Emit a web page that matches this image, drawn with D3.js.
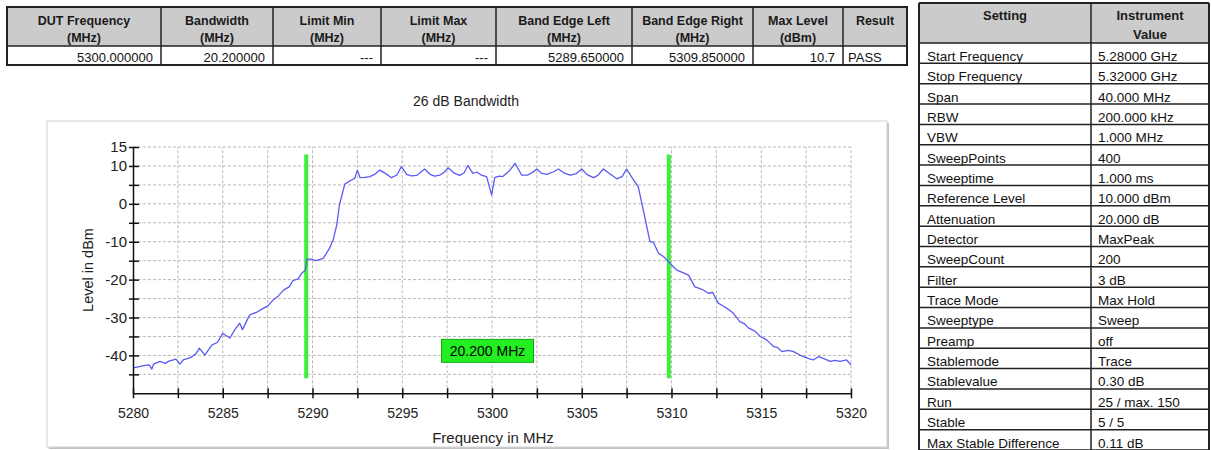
<!DOCTYPE html>
<html>
<head>
<meta charset="utf-8">
<script src="https://cdn.jsdelivr.net/npm/d3@7"></script>
<style>
  body { margin: 0; background: #fff; }
  svg { font-family: "Liberation Sans", Arial, sans-serif; }
</style>
</head>
<body>
<div id="chart"></div>
<script>
// result table
const resultHeaders = [
  ["DUT Frequency", "(MHz)"], ["Bandwidth", "(MHz)"], ["Limit Min", "(MHz)"], ["Limit Max", "(MHz)"],
  ["Band Edge Left", "(MHz)"], ["Band Edge Right", "(MHz)"], ["Max Level", "(dBm)"], ["Result", ""]
];
const resultValues = ["5300.000000", "20.200000", "---", "---", "5289.650000", "5309.850000", "10.7", "PASS"];

// instrument settings
const settingNames = ["Start Frequency", "Stop Frequency", "Span", "RBW", "VBW", "SweepPoints", "Sweeptime",
  "Reference Level", "Attenuation", "Detector", "SweepCount", "Filter", "Trace Mode", "Sweeptype", "Preamp",
  "Stablemode", "Stablevalue", "Run", "Stable", "Max Stable Difference"];
const settingValues = ["5.28000 GHz", "5.32000 GHz", "40.000 MHz", "200.000 kHz", "1.000 MHz", "400", "1.000 ms",
  "10.000 dBm", "20.000 dB", "MaxPeak", "200", "3 dB", "Max Hold", "Sweep", "off",
  "Trace", "0.30 dB", "25 / max. 150", "5 / 5", "0.11 dB"];

// trace
const traceFreq = [5280.0, 5280.3, 5280.6, 5280.9, 5281.05, 5281.15, 5281.5, 5281.8, 5282.0, 5282.4, 5282.6, 5282.8,
  5283.2, 5283.5, 5283.7, 5284.0, 5284.4, 5284.7, 5285.0, 5285.4, 5285.7, 5285.95, 5286.1, 5286.5, 5286.9,
  5287.25, 5287.5, 5287.8, 5288.1, 5288.4, 5288.7, 5288.9, 5289.2, 5289.4, 5289.6, 5289.7, 5289.9, 5290.2,
  5290.6, 5290.95, 5291.15, 5291.35, 5291.5, 5291.8, 5292.1, 5292.35, 5292.5, 5292.65, 5292.9, 5293.2, 5293.5,
  5293.75, 5294.1, 5294.4, 5294.7, 5294.95, 5295.25, 5295.5, 5295.8, 5296.25, 5296.55, 5296.8, 5297.1, 5297.35,
  5297.55, 5297.9, 5298.2, 5298.45, 5298.65, 5298.95, 5299.15, 5299.4, 5299.7, 5299.98, 5300.15, 5300.4,
  5300.6, 5301.0, 5301.28, 5301.65, 5302.0, 5302.25, 5302.5, 5302.75, 5303.05, 5303.4, 5303.7, 5304.0, 5304.35,
  5304.7, 5305.0, 5305.3, 5305.65, 5305.9, 5306.2, 5306.6, 5306.95, 5307.25, 5307.5, 5307.8, 5308.15, 5308.45,
  5308.8, 5309.0, 5309.27, 5309.55, 5309.85, 5310.1, 5310.3, 5310.6, 5310.95, 5311.3, 5311.55, 5311.8, 5312.05,
  5312.3, 5312.6, 5312.85, 5313.1, 5313.45, 5313.8, 5314.05, 5314.3, 5314.65, 5314.95, 5315.3, 5315.7, 5315.9,
  5316.15, 5316.5, 5316.8, 5317.15, 5317.6, 5317.9, 5318.2, 5318.45, 5318.85, 5319.1, 5319.4, 5319.75, 5320.0];
const traceLevel = [-43.3, -43.0, -42.7, -42.5, -43.6, -42.3, -41.6, -42.1, -41.5, -41.0, -42.3, -41.2,
  -40.6, -39.6, -38.1, -39.9, -37.2, -36.6, -34.2, -35.4, -33.0, -31.5, -33.2, -29.3, -28.6,
  -27.6, -27.0, -25.4, -24.3, -22.7, -21.9, -20.3, -19.8, -18.3, -17.5, -14.6, -14.6, -15.0,
  -14.4, -11.7, -9.5, -5.6, -0.3, 5.2, 6.1, 6.7, 8.9, 6.9, 7.0, 7.2, 7.9,
  8.9, 7.9, 6.9, 7.6, 9.8, 7.8, 7.4, 7.5, 9.2, 7.8, 7.3, 7.6, 8.4,
  9.5, 8.1, 7.5, 8.2, 10.1, 8.0, 8.4, 7.6, 7.2, 2.3, 6.9, 7.3,
  7.2, 8.9, 10.7, 7.6, 7.6, 8.3, 9.2, 8.1, 7.8, 8.4, 9.2, 8.2, 7.6,
  8.0, 9.2, 7.7, 6.9, 7.5, 9.2, 7.8, 6.6, 7.2, 9.2, 6.9, 4.5, -2.1,
  -10.0, -10.2, -13.0, -13.9, -15.3, -16.6, -17.5, -18.1, -18.8, -21.9, -22.3, -22.8, -23.6,
  -23.4, -26.2, -26.9, -27.6, -28.9, -31.1, -31.6, -32.8, -33.6, -35.0, -35.9, -37.7, -37.9,
  -39.0, -38.7, -39.0, -39.9, -40.8, -41.2, -40.3, -40.8, -41.6, -41.3, -41.6, -41.2, -42.5];

const bandEdges = [5289.65, 5309.85];
const bandLabel = "20.200 MHz";
const xTickLabels = [5280, 5285, 5290, 5295, 5300, 5305, 5310, 5315, 5320];
const xMinorTicks = [5282.5, 5287.5, 5292.5, 5297.5, 5302.5, 5307.5, 5312.5, 5317.5];
const yTickLabels = [15, 10, 0, -10, -20, -30, -40];
const yMinorTicks = [5, -5, -15, -25, -35, -45];

const W = 1211, H = 450;
const svg = d3.select("#chart").append("svg").attr("width", W).attr("height", H);

// ---------- result table ----------
const resCols = [7, 161, 273, 381, 496, 632, 753, 843, 907];
const resTop = 7, resHeadBottom = 46, resBottom = 65;
const resG = svg.append("g");
resG.append("rect").attr("x", resCols[0]).attr("y", resTop)
  .attr("width", resCols[8] - resCols[0]).attr("height", resHeadBottom - resTop).attr("fill", "#cbcbcb");
resultHeaders.forEach((h, i) => {
  const cx = (resCols[i] + resCols[i + 1]) / 2;
  const t = resG.append("text").attr("text-anchor", "middle").attr("font-size", 12.5)
    .attr("font-weight", "bold").attr("fill", "#1a1a1a");
  t.append("tspan").attr("x", cx).attr("y", 25).text(h[0]);
  if (h[1]) t.append("tspan").attr("x", cx).attr("y", 42).text(h[1]);
});
resultValues.forEach((v, i) => {
  const last = i === resultValues.length - 1;
  resG.append("text")
    .attr("x", last ? resCols[i] + 5 : resCols[i + 1] - 8)
    .attr("y", 62)
    .attr("text-anchor", last ? "start" : "end")
    .attr("font-size", 13).attr("fill", "#111").text(v);
});
resG.append("rect").attr("x", resCols[0]).attr("y", resTop)
  .attr("width", resCols[8] - resCols[0]).attr("height", resBottom - resTop)
  .attr("fill", "none").attr("stroke", "#222").attr("stroke-width", 2);
resG.append("line").attr("x1", resCols[0]).attr("x2", resCols[8]).attr("y1", resHeadBottom).attr("y2", resHeadBottom)
  .attr("stroke", "#222").attr("stroke-width", 1.5);
resCols.slice(1, -1).forEach(cx => {
  resG.append("line").attr("x1", cx).attr("x2", cx).attr("y1", resTop).attr("y2", resBottom)
    .attr("stroke", "#222").attr("stroke-width", 1.5);
});

// ---------- settings table ----------
const setL = 919, setM = 1091, setR = 1209, setTop = 3, setHead = 43, rowH = 20.35;
const setG = svg.append("g");
setG.append("rect").attr("x", setL).attr("y", setTop).attr("width", setR - setL).attr("height", setHead - setTop)
  .attr("fill", "#cbcbcb");
setG.append("text").attr("x", (setL + setM) / 2).attr("y", 20).attr("text-anchor", "middle")
  .attr("font-size", 13).attr("font-weight", "bold").attr("fill", "#1a1a1a").text("Setting");
const ivt = setG.append("text").attr("text-anchor", "middle").attr("font-size", 13)
  .attr("font-weight", "bold").attr("fill", "#1a1a1a");
ivt.append("tspan").attr("x", (setM + setR) / 2).attr("y", 20).text("Instrument");
ivt.append("tspan").attr("x", (setM + setR) / 2).attr("y", 39).text("Value");
settingNames.forEach((n, i) => {
  const yb = setHead + (i + 1) * rowH;
  setG.append("text").attr("x", setL + 8).attr("y", yb - 2.5).attr("font-size", 13.5).attr("fill", "#111").text(n);
  setG.append("text").attr("x", setM + 7).attr("y", yb - 2.5).attr("font-size", 13.5).attr("fill", "#111").text(settingValues[i]);
});
const setBottom = setHead + settingNames.length * rowH;
for (let i = 0; i <= settingNames.length; i++) {
  const yy = setHead + i * rowH;
  setG.append("line").attr("x1", setL).attr("x2", setR).attr("y1", yy).attr("y2", yy)
    .attr("stroke", "#222").attr("stroke-width", 1.5);
}
setG.append("line").attr("x1", setL).attr("x2", setR).attr("y1", setTop).attr("y2", setTop)
  .attr("stroke", "#222").attr("stroke-width", 2);
[setL, setM, setR].forEach(cx => {
  setG.append("line").attr("x1", cx).attr("x2", cx).attr("y1", setTop).attr("y2", setBottom)
    .attr("stroke", "#222").attr("stroke-width", cx === setM ? 1.5 : 2);
});

// ---------- chart ----------
svg.append("text").attr("x", 466).attr("y", 106).attr("text-anchor", "middle")
  .attr("font-size", 14).attr("fill", "#222").text("26 dB Bandwidth");

// frame with shadow
svg.append("rect").attr("x", 49).attr("y", 123).attr("width", 840).attr("height", 326).attr("fill", "#c4c4c4");
svg.append("rect").attr("x", 47).attr("y", 121).attr("width", 840).attr("height", 326)
  .attr("fill", "#fff").attr("stroke", "#d2d2d2").attr("stroke-width", 1);

const x = d3.scaleLinear().domain([5280, 5320]).range([133, 851]);
const y = d3.scaleLinear().domain([-50, 15]).range([393.3, 147]);

const grid = svg.append("g").attr("stroke", "#b8b8b8").attr("stroke-width", 1).attr("stroke-dasharray", "3,2");
xTickLabels.concat(xMinorTicks).filter(d => d > 5280).forEach(d => {
  grid.append("line").attr("x1", x(d)).attr("x2", x(d)).attr("y1", y(-50)).attr("y2", y(15));
});
yTickLabels.concat(yMinorTicks).forEach(d => {
  grid.append("line").attr("x1", x(5280)).attr("x2", x(5320)).attr("y1", y(d)).attr("y2", y(d));
});

// band edge markers
svg.append("g").selectAll("line").data(bandEdges).join("line")
  .attr("x1", d => x(d)).attr("x2", d => x(d)).attr("y1", y(13)).attr("y2", y(-46))
  .attr("stroke", "#3def3d").attr("stroke-width", 4);

// trace
const line = d3.line().x((d, i) => x(traceFreq[i])).y(d => y(d));
svg.append("path").datum(traceLevel).attr("d", line)
  .attr("fill", "none").attr("stroke", "#5a5af5").attr("stroke-width", 1.3).attr("stroke-linejoin", "round");

// axes
const xAxis = d3.axisBottom(x)
  .tickValues(xTickLabels.concat(xMinorTicks))
  .tickFormat(d => xTickLabels.includes(d) ? d : "")
  .tickSizeInner(5).tickSizeOuter(0);
const gx = svg.append("g").attr("transform", `translate(0,${y(-50)})`).call(xAxis);
gx.selectAll(".tick line").attr("y1", -5).attr("y2", 5).attr("stroke", "#111").attr("stroke-width", 1.5);
gx.selectAll(".tick text").attr("y", 15).attr("font-size", 14).attr("fill", "#222")
  .attr("font-family", "Liberation Sans, Arial, sans-serif");
gx.select(".domain").attr("stroke", "#111").attr("stroke-width", 1.5);

const yAxis = d3.axisLeft(y)
  .tickValues(yTickLabels.concat(yMinorTicks))
  .tickFormat(d => yTickLabels.includes(d) ? d : "")
  .tickSizeInner(4).tickSizeOuter(0);
const gy = svg.append("g").attr("transform", `translate(${x(5280)},0)`).call(yAxis);
gy.selectAll(".tick line").attr("x1", -4).attr("x2", 6).attr("stroke", "#111").attr("stroke-width", 1.5);
gy.selectAll(".tick text").attr("x", -6).attr("font-size", 15).attr("fill", "#222")
  .attr("font-family", "Liberation Sans, Arial, sans-serif");
gy.select(".domain").attr("stroke", "#111").attr("stroke-width", 1.5);

// axis titles
svg.append("text").attr("x", 493).attr("y", 443).attr("text-anchor", "middle")
  .attr("font-size", 15).attr("fill", "#222").text("Frequency in MHz");
svg.append("text").attr("transform", "translate(93,270) rotate(-90)").attr("text-anchor", "middle")
  .attr("font-size", 14.5).attr("fill", "#222").text("Level in dBm");

// bandwidth label
const midF = (bandEdges[0] + bandEdges[1]) / 2;
const lab = svg.append("g").attr("transform", `translate(${x(midF)},${y(-38.8)})`);
lab.append("rect").attr("x", -46).attr("y", -11.5).attr("width", 92).attr("height", 23)
  .attr("fill", "#22ee22").attr("stroke", "#11aa11").attr("stroke-width", 1);
lab.append("text").attr("text-anchor", "middle").attr("dy", "0.35em").attr("font-size", 14)
  .attr("fill", "#000").text(bandLabel);
</script>
</body>
</html>
